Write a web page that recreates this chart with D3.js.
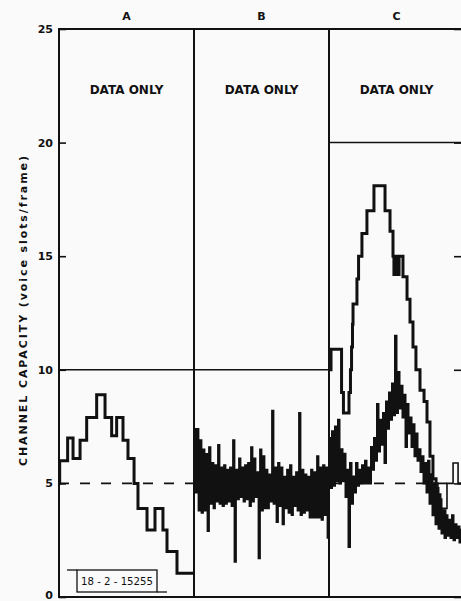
<!DOCTYPE html>
<html>
<head>
<meta charset="utf-8">
<script src="https://d3js.org/d3.v7.min.js"></script>
<style>
  body { margin: 0; background: #fafafa; }
  svg { display: block; }
  text { font-family: 'DejaVu Sans', sans-serif; font-weight: bold; fill: #111; }
</style>
</head>
<body>
<div id="vis"></div>
<script>
// panels across the time axis (each panel = 100 time units)
const panelNames = ['A', 'B', 'C'];
const panelNotes = ['DATA ONLY', 'DATA ONLY', 'DATA ONLY'];
const panelLimits = [10, 10, 20];
const yTicks = [0, 5, 10, 15, 20, 25];
const baseline = 5;
const plateId = '18 - 2 - 15255';

// panel A step trace
const aTime = [0, 0.5, 6.4, 10.4, 15.6, 20.5, 27.9, 34.1, 39.0, 42.7, 47.4, 51.1, 55.6, 58.5, 65.2, 71.1, 77.0, 80.0, 87.4, 100];
const aValue = [5.0, 6.0, 7.0, 6.1, 6.9, 7.9, 8.9, 7.9, 7.1, 7.9, 6.9, 6.1, 5.0, 3.9, 2.95, 3.9, 2.95, 2.0, 1.05, 1.05];

// panel B noisy trace, evenly sampled from t=100
const bValue = [7.4, 4.6, 7.4, 3.8, 6.9, 3.7, 6.5, 3.8, 6.3, 2.9,
  6.6, 4.1, 5.9, 3.9, 5.8, 4.2, 6.7, 4.1, 5.7, 4.0,
  5.8, 4.1, 5.6, 4.2, 5.7, 4.0, 6.9, 1.55, 5.6, 4.3,
  6.1, 4.4, 5.7, 4.2, 5.8, 4.3, 5.9, 4.0, 6.6, 4.2,
  6.1, 4.4, 5.5, 1.7, 6.5, 3.8, 6.2, 3.9, 5.6, 3.9,
  5.4, 4.2, 8.2, 4.1, 5.7, 3.3, 5.9, 4.0, 5.7, 3.2,
  5.3, 3.9, 5.6, 3.7, 5.8, 3.6, 5.3, 4.0, 5.5, 3.8,
  8.1, 3.6, 5.6, 3.7, 5.4, 3.8, 5.3, 3.5, 5.6, 3.5,
  5.5, 3.5, 6.2, 3.5, 5.7, 3.4, 5.8, 3.6, 5.7, 2.6, 5.6];

// panel C upper step trace
const cPeakTime = [200, 201.5, 209.3, 210.7, 214.8, 215.9, 216.7, 217.4, 217.8, 220.7, 221.9, 224.4, 228.1, 233.3,
  241.5, 245.2, 247.4, 248.1, 248.9, 249.6, 250.4, 251.1, 251.9, 254.8, 257.8, 260.0, 262.2, 264.4,
  267.4, 270.4, 272.6, 274.8, 277.0, 279.3, 282.2, 285.9, 291.1, 300];
const cPeakValue = [10.0, 10.9, 9.0, 8.1, 9.0, 10.0, 11.0, 12.0, 12.9, 14.0, 15.0, 16.0, 17.0, 18.1,
  17.0, 16.1, 15.0, 14.2, 15.0, 14.2, 15.0, 14.2, 15.0, 14.1, 13.1, 12.1, 11.0, 10.0,
  9.1, 8.6, 7.7, 6.2, 5.2, 4.5, 3.8, 3.2, 2.9, 2.9];

// panel C noisy trace, evenly sampled from t=200
const cNoiseValue = [7.0, 4.8, 7.3, 4.9, 7.5, 5.1, 7.8, 5.0, 6.5, 5.1,
  6.3, 4.4, 5.6, 2.2, 5.9, 4.1, 5.3, 4.6, 5.9, 4.9,
  5.6, 5.0, 5.8, 5.0, 6.0, 5.0, 5.7, 5.0, 6.6, 5.6,
  7.0, 6.0, 8.5, 6.4, 7.8, 6.7, 8.1, 5.9, 8.6, 7.4,
  9.0, 7.8, 9.4, 8.0, 11.5, 8.1, 9.9, 8.3, 9.3, 7.9,
  8.9, 6.6, 8.5, 7.2, 7.9, 6.6, 7.6, 6.2, 7.2, 6.0,
  6.5, 5.5, 6.2, 5.0, 5.9, 4.6, 6.0, 4.1, 5.4, 3.6,
  5.0, 3.2, 4.8, 3.0, 4.3, 2.8, 3.8, 2.6, 3.6, 2.7,
  3.4, 2.6, 3.6, 2.5, 3.2, 2.6, 3.1, 2.4, 3.0];

// thin trace at the right edge of panel C
const cLastTime = [274.8, 280.7, 287.4, 291.9, 295.6, 300];
const cLastValue = [5.0, 3.9, 5.0, 5.9, 5.0, 5.0];

const sampleStep = 100 / 90;
const ink = '#111';

const svg = d3.select('#vis')
  .append('svg')
  .attr('width', 461)
  .attr('height', 601);

const x = d3.scaleLinear().domain([0, 300]).range([59, 464]);
const y = d3.scaleLinear().domain([0, 25]).range([597, 29]);

// panel frames
svg.selectAll('.panel')
  .data(panelNames)
  .enter()
  .append('rect')
  .attr('class', 'panel')
  .attr('x', (d, i) => x(i * 100))
  .attr('y', y(25))
  .attr('width', x(100) - x(0))
  .attr('height', y(0) - y(25))
  .attr('fill', 'none')
  .attr('stroke', ink)
  .attr('stroke-width', 2);

// limit lines for each panel
svg.selectAll('.limit')
  .data(panelLimits)
  .enter()
  .append('line')
  .attr('class', 'limit')
  .attr('x1', (d, i) => x(i * 100))
  .attr('x2', (d, i) => x((i + 1) * 100))
  .attr('y1', d => y(d))
  .attr('y2', d => y(d))
  .attr('stroke', ink)
  .attr('stroke-width', 1.5);

// dashed baseline
svg.append('line')
  .attr('x1', x(0))
  .attr('x2', x(300))
  .attr('y1', y(baseline))
  .attr('y2', y(baseline))
  .attr('stroke', ink)
  .attr('stroke-width', 1.6)
  .attr('stroke-dasharray', '10,11');

// left axis: inward ticks, labels outside
const leftAxis = svg.append('g')
  .attr('transform', `translate(${x(0)},0)`)
  .call(d3.axisLeft(y).tickValues(yTicks).tickSize(-7).tickPadding(6).tickFormat(d3.format('d')));
leftAxis.select('.domain').remove();
leftAxis.selectAll('line').attr('stroke', ink).attr('stroke-width', 1.6);
leftAxis.selectAll('text')
  .style('font-size', '11px')
  .attr('fill', ink)
  .attr('dy', d => d === 0 ? '0.1em' : '0.32em');

// right axis ticks (no labels)
const rightAxis = svg.append('g')
  .attr('transform', `translate(${x(300)},0)`)
  .call(d3.axisRight(y).tickValues(yTicks).tickSize(-10).tickFormat(''));
rightAxis.select('.domain').remove();
rightAxis.selectAll('line').attr('stroke', ink).attr('stroke-width', 1.6);

// panel titles and notes
svg.selectAll('.title')
  .data(panelNames)
  .enter()
  .append('text')
  .attr('class', 'title')
  .attr('x', (d, i) => x(i * 100 + 50))
  .attr('y', 20)
  .attr('text-anchor', 'middle')
  .style('font-size', '11px')
  .text(d => d);

svg.selectAll('.note')
  .data(panelNotes)
  .enter()
  .append('text')
  .attr('class', 'note')
  .attr('x', (d, i) => x(i * 100 + 50))
  .attr('y', 94)
  .attr('text-anchor', 'middle')
  .style('font-size', '12px')
  .text(d => d);

// y axis label
svg.append('text')
  .attr('transform', 'translate(27,311) rotate(-90)')
  .attr('text-anchor', 'middle')
  .attr('textLength', 310)
  .attr('lengthAdjust', 'spacing')
  .style('font-size', '11px')
  .text('CHANNEL CAPACITY (voice slots/frame)');

// traces
const stepLine = d3.line()
  .x(d => x(d[0]))
  .y(d => y(d[1]))
  .curve(d3.curveStepAfter);

const aData = aTime.map((t, i) => [t, aValue[i]]);
const bData = bValue.map((v, i) => [100 + i * sampleStep, v]);
const cPeakData = cPeakTime.map((t, i) => [t, cPeakValue[i]]);
const cNoiseData = cNoiseValue.map((v, i) => [200 + i * sampleStep, v]);
const cLastData = cLastTime.map((t, i) => [t, cLastValue[i]]);

const traces = [
  { data: bData, width: 1.8 },
  { data: cNoiseData, width: 2 },
  { data: aData, width: 3 },
  { data: cPeakData, width: 3 },
  { data: cLastData, width: 1.6 }
];

svg.selectAll('.trace')
  .data(traces)
  .enter()
  .append('path')
  .attr('class', 'trace')
  .attr('d', d => stepLine(d.data))
  .attr('fill', 'none')
  .attr('stroke', ink)
  .attr('stroke-width', d => d.width)
  .attr('stroke-linejoin', 'miter');

// figure number plate
const plate = svg.append('g');
plate.append('rect')
  .attr('x', 77)
  .attr('y', 570)
  .attr('width', 80)
  .attr('height', 22)
  .attr('fill', 'none')
  .attr('stroke', ink)
  .attr('stroke-width', 1.3);
plate.append('line')
  .attr('x1', 67).attr('x2', 77).attr('y1', 570).attr('y2', 570)
  .attr('stroke', ink).attr('stroke-width', 1.3);
plate.append('line')
  .attr('x1', 157).attr('x2', 167).attr('y1', 592).attr('y2', 592)
  .attr('stroke', ink).attr('stroke-width', 1.3);
plate.append('text')
  .attr('x', 117)
  .attr('y', 585)
  .attr('text-anchor', 'middle')
  .attr('textLength', 72)
  .attr('lengthAdjust', 'spacingAndGlyphs')
  .style('font-size', '10px')
  .style('font-weight', 'normal')
  .text(plateId);
</script>
</body>
</html>
